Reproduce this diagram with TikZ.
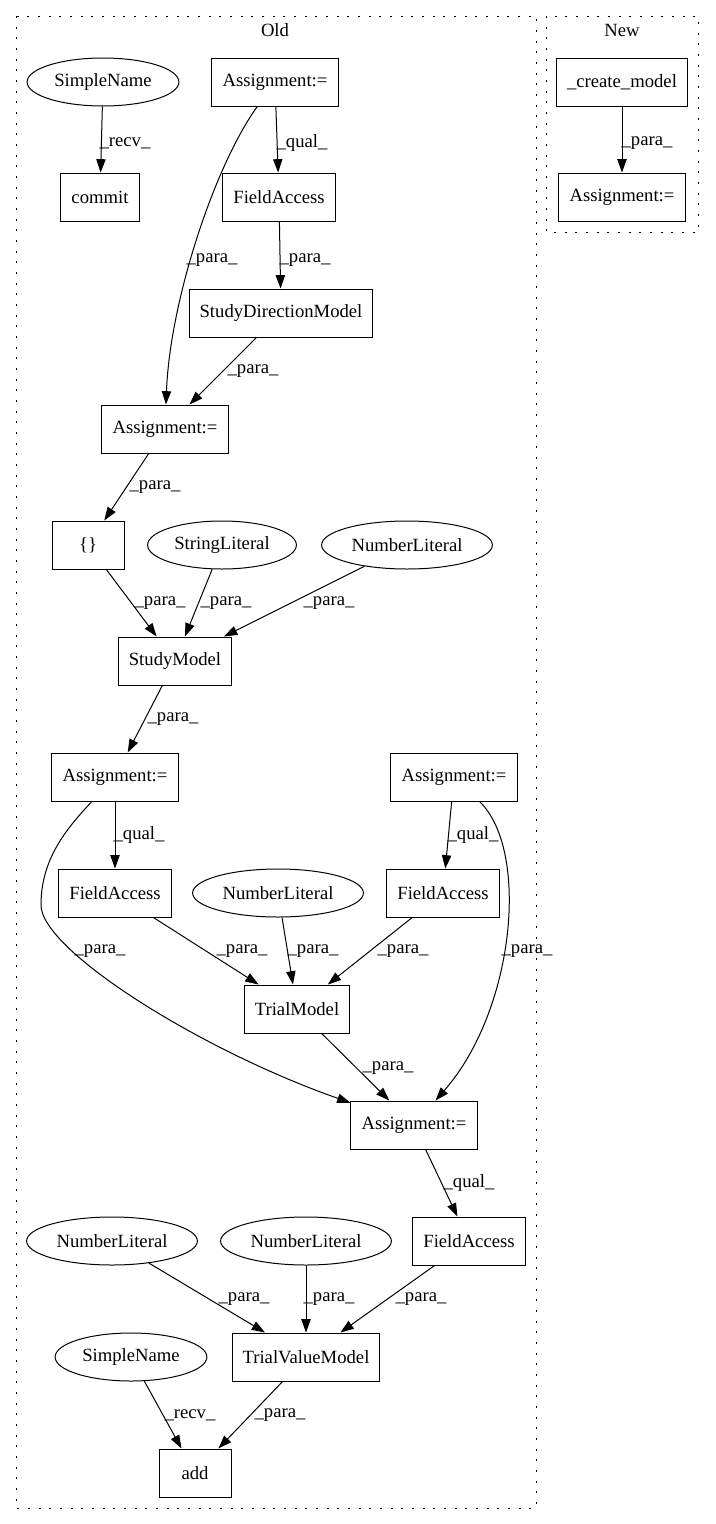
\documentclass[tikz,border=0pt]{standalone}
\usepackage{fontspec}
\setmainfont{Liberation Serif}
\usepackage{tikz}
\usetikzlibrary{shapes.geometric}
\usetikzlibrary{arrows.meta}
\tikzset{box/.style={draw, rectangle, line width=0.75pt, minimum height=36pt, minimum width=54pt, inner xsep=7.92pt, inner ysep=0pt}}
\tikzset{oval/.style={draw, ellipse, line width=0.75pt, minimum height=36pt, inner xsep=3.7pt, inner ysep=2pt}}
\tikzset{lbl/.style={inner sep=0pt}}
\tikzset{cluster/.style={draw, dash pattern=on 1.5pt off 6.5pt, line width=0.75pt}}
\tikzset{arr/.style={-{Triangle[length=10pt, width=7pt]}, line width=0.75pt}}

\begin{document}
\begin{tikzpicture}[x=0.75pt, y=-0.75pt, every node/.style={font=\fontsize{14pt}{17pt}\selectfont}]
	\useasboundingbox (0,0) rectangle (715,1524);
	\draw [cluster] (16,16) rectangle (536,1508);
	\draw [cluster] (546,16) rectangle (698,232);
	\node (old) at (275,30) {Old};
	\node (new) at (622,30) {New};
	% old
	\node [oval] (sname) at (103,82) {SimpleName};
	\node [box] (commit) at (100,197) {commit};
	\node [box] (asgA) at (275,82) {Assignment:=};
	\node [box] (fieldA) at (279,197) {FieldAccess};
	\node [box] (sdm) at (281,313) {StudyDirectionModel};
	\node [box] (asgB) at (165,429) {Assignment:=};
	\node [box] (braces) at (88,545) {\{\}};
	\node [oval] (strlit) at (222,545) {StringLiteral};
	\node [oval] (numA) at (407,545) {NumberLiteral};
	\node [box] (study) at (175,661) {StudyModel};
	\node [box] (asgC) at (115,777) {Assignment:=};
	\node [box] (asgD) at (454,777) {Assignment:=};
	\node [box] (fieldB) at (115,893) {FieldAccess};
	\node [oval] (numB) at (278,893) {NumberLiteral};
	\node [box] (fieldC) at (443,893) {FieldAccess};
	\node [box] (trial) at (297,1009) {TrialModel};
	\node [box] (asgE) at (414,1125) {Assignment:=};
	\node [oval] (numC) at (112,1241) {NumberLiteral};
	\node [oval] (numD) at (306,1241) {NumberLiteral};
	\node [box] (fieldD) at (469,1241) {FieldAccess};
	\node [oval] (snameB) at (131,1357) {SimpleName};
	\node [box] (tvm) at (306,1357) {TrialValueModel};
	\node [box] (add) at (195,1473) {add};
	% new
	\node [box] (create) at (622,82) {\_create\_model};
	\node [box] (asgF) at (622,197) {Assignment:=};
	% edges
	\draw [arr] (sname) -- (commit) node [lbl] at (125,143) {\_recv\_};
	\draw [arr] (asgA) -- (fieldA) node [lbl] at (302,143) {\_qual\_};
	\draw [arr] (asgA) .. controls (215,165) and (170,300) .. (asgB) node [lbl] at (212,260) {\_para\_};
	\draw [arr] (fieldA) -- (sdm) node [lbl] at (305,260) {\_para\_};
	\draw [arr] (sdm) -- (asgB) node [lbl] at (253,371) {\_para\_};
	\draw [arr] (asgB) -- (braces) node [lbl] at (155,487) {\_para\_};
	\draw [arr] (braces) -- (study) node [lbl] at (160,603) {\_para\_};
	\draw [arr] (strlit) -- (study) node [lbl] at (226,603) {\_para\_};
	\draw [arr] (numA) -- (study) node [lbl] at (329,603) {\_para\_};
	\draw [arr] (study) -- (asgC) node [lbl] at (173,719) {\_para\_};
	\draw [arr] (asgC) -- (fieldB) node [lbl] at (139,835) {\_qual\_};
	\draw [arr] (asgD) -- (fieldC) node [lbl] at (473,835) {\_qual\_};
	\draw [arr] (asgC) .. controls (65,830) and (41,860) .. (41,905) .. controls (41,950) and (200,1050) .. (asgE) node [lbl] at (100,951) {\_para\_};
	\draw [arr] (fieldB) -- (trial) node [lbl] at (242,951) {\_para\_};
	\draw [arr] (numB) -- (trial) node [lbl] at (313,951) {\_para\_};
	\draw [arr] (fieldC) -- (trial) node [lbl] at (403,951) {\_para\_};
	\draw [arr] (asgD) .. controls (530,850) and (515,1010) .. (asgE) node [lbl] at (527,951) {\_para\_};
	\draw [arr] (trial) -- (asgE) node [lbl] at (388,1068) {\_para\_};
	\draw [arr] (asgE) -- (fieldD) node [lbl] at (469,1183) {\_qual\_};
	\draw [arr] (numC) -- (tvm) node [lbl] at (244,1299) {\_para\_};
	\draw [arr] (numD) -- (tvm) node [lbl] at (329,1299) {\_para\_};
	\draw [arr] (fieldD) -- (tvm) node [lbl] at (421,1299) {\_para\_};
	\draw [arr] (snameB) -- (add) node [lbl] at (190,1415) {\_recv\_};
	\draw [arr] (tvm) -- (add) node [lbl] at (280,1415) {\_para\_};
	\draw [arr] (create) -- (asgF) node [lbl] at (647,143) {\_para\_};
\end{tikzpicture}
\end{document}
